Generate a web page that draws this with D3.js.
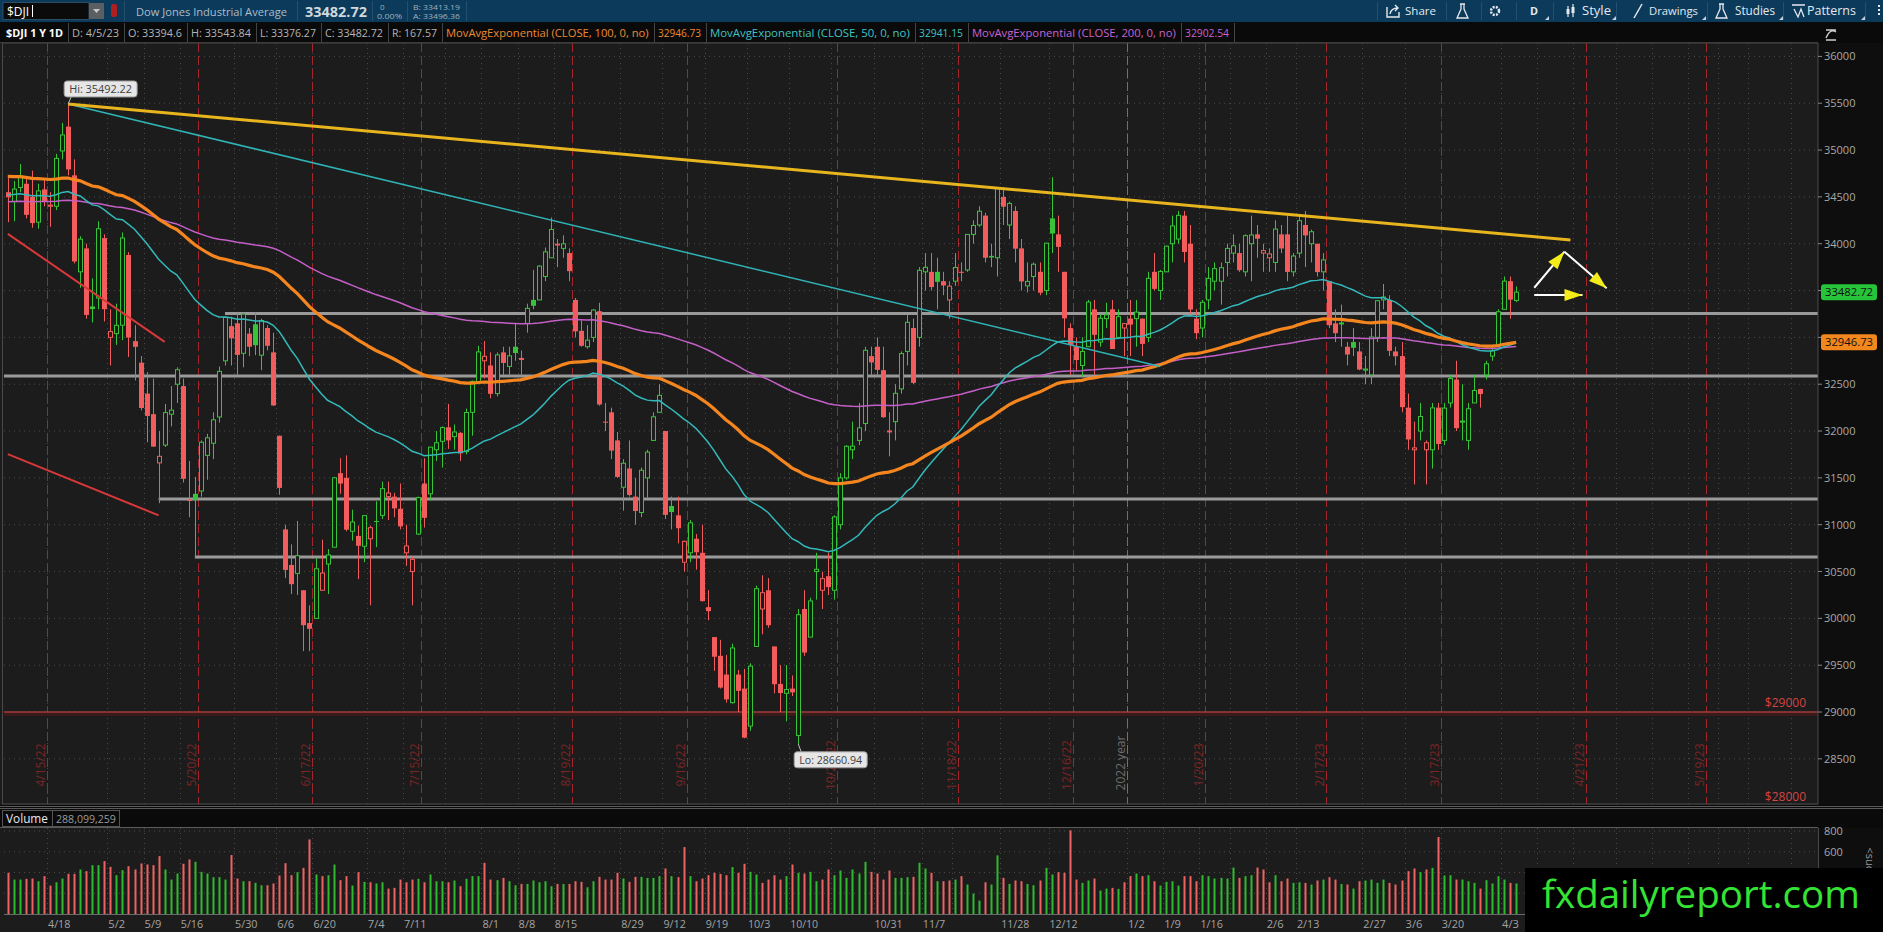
<!DOCTYPE html>
<html>
<head>
<meta charset="utf-8">
<script src="https://cdn.jsdelivr.net/npm/d3@7"></script>
<style>
  body { margin: 0; background: #1c1c1c; overflow: hidden; }
  svg { display: block; }
  text { font-family: "Open Sans", "Liberation Sans", sans-serif; }
  text.narrow { font-family: "Liberation Sans Narrow", "Open Sans", "Liberation Sans", sans-serif; }
</style>
</head>
<body>
<div id="chart"></div>
<script>
// ---- data: daily bars [day, open, high, low, close] ----
var apr22 = [[6,34550,34700,34230,34496],[7,34450,34670,34240,34583],[8,34600,34850,34550,34721],[11,34640,34700,34270,34308],[12,34500,34780,34170,34220],[13,34230,34640,34160,34564],[14,34580,34700,34400,34451],[18,34400,34550,34180,34412],[19,34400,34960,34360,34911],[20,34990,35290,34900,35161],[21,35250,35492,34730,34793],[22,34730,34900,33790,33811],[25,33700,34080,33530,34049],[26,33950,34000,33200,33240],[27,33330,33630,33160,33302],[28,33420,34240,33300,34160],[29,34060,34100,33170,33301]];
var may22 = [[2,33000,33300,32700,33062],[3,33040,33360,32920,33129],[4,33130,34120,32970,34061],[5,33880,33910,32790,32998],[6,32960,33130,32540,32899],[9,32730,32800,32220,32246],[10,32400,32630,31880,32161],[11,32180,32560,31830,31834],[12,31660,32000,31230,31730],[13,31850,32290,31830,32197],[16,32180,32480,32050,32223],[17,32500,32680,32300,32655],[18,32480,32560,31450,31490],[19,31270,31680,31080,31253],[20,31330,31510,30640,31262],[23,31360,31900,31300,31880],[24,31740,31970,31480,31928],[25,31870,32200,31700,32120],[26,32150,32690,32090,32637],[27,32750,33220,32700,33213],[31,33120,33220,32700,32990]];
var jun22 = [[1,33150,33270,32600,32813],[2,32830,33270,32680,33248],[3,33040,33100,32800,32900],[6,33140,33270,32810,32916],[7,32810,33200,32650,33180],[8,33100,33130,32860,32910],[9,32840,33050,32270,32273],[10,31950,31950,31320,31393],[13,30950,31000,30430,30517],[14,30570,30790,30260,30365],[15,30480,31040,30250,30669],[16,30300,30300,29650,29927],[17,29950,30140,29650,29889],[21,30000,30640,30000,30530],[22,30300,30840,30300,30484],[23,30580,30740,30260,30677],[24,30760,31510,30760,31501],[27,31550,31710,31330,31439],[28,31500,31740,30930,30947],[29,30930,31160,30830,31029],[30,30880,30990,30420,30775]];
var jul22 = [[1,30770,31100,30600,31097],[5,30850,30990,30140,30968],[6,31040,31250,30760,31037],[7,31100,31460,31060,31385],[8,31300,31460,31050,31338],[11,31300,31340,31080,31174],[12,31170,31440,30950,30982],[13,30700,31000,30560,30773],[14,30500,30660,30140,30630],[15,30900,31300,30890,31289],[18,31440,31710,30970,31073],[19,31330,31830,31260,31828],[20,31800,32000,31680,31875],[21,31890,32050,31610,32037],[22,32040,32290,31810,31900],[25,31940,32070,31800,31990],[26,31980,31990,31680,31762],[27,31780,32240,31750,32198],[28,32200,32540,31950,32530],[29,32520,32910,32500,32845]];
var aug22 = [[1,32750,32960,32560,32798],[2,32700,32840,32350,32397],[3,32400,32840,32370,32813],[4,32840,32900,32600,32727],[5,32690,32900,32600,32803],[8,32900,33150,32750,32833],[9,32770,32860,32600,32775],[10,33150,33360,33050,33310],[11,33400,33720,33300,33337],[12,33400,33770,33400,33761],[15,33650,33960,33600,33913],[16,33850,34280,33850,34152],[17,34000,34050,33750,33981],[18,33950,34090,33850,33999],[19,33900,33950,33600,33707],[22,33400,33420,33000,33064],[23,33070,33180,32900,32910],[24,32900,33130,32880,32970],[25,33000,33300,32950,33292],[26,33280,33370,32270,32283],[29,32100,32300,32000,32099],[30,32200,32250,31700,31791],[31,31900,31990,31500,31510]];
var sep22 = [[1,31400,31700,31150,31656],[2,31600,31900,31300,31318],[6,31300,31500,31000,31146],[7,31130,31610,31080,31581],[8,31500,31800,31290,31775],[9,31900,32200,31900,32152],[12,32200,32500,32200,32381],[13,32000,32000,31060,31105],[14,31200,31300,30950,31135],[15,31100,31300,30800,30962],[16,30600,30830,30500,30822],[19,30700,31050,30600,31020],[20,30850,30900,30520,30706],[21,30700,31000,30180,30184],[22,30120,30300,29980,30077],[23,29800,29800,29440,29590],[26,29600,29770,29250,29261],[27,29400,29610,29100,29135],[28,29100,29730,29090,29684],[29,29400,29450,29000,29226],[30,29250,29460,28720,28726]];
var oct22 = [[3,28850,29520,28800,29490],[4,29700,30350,29700,30317],[5,30100,30460,29830,30274],[6,30300,30430,29900,29927],[7,29700,29700,29200,29297],[10,29300,29500,29000,29203],[11,29200,29500,28900,29240],[12,29250,29390,29170,29210],[13,28750,30100,28660.94,30039],[14,30100,30300,29600,29635],[17,29800,30220,29800,30186],[18,30500,30700,30200,30524],[19,30300,30500,30100,30424],[20,30450,30700,30250,30334],[21,30300,31100,30200,31083],[24,31000,31550,30950,31500],[25,31500,31850,31480,31837],[26,31800,32100,31700,31839],[27,31900,32300,31850,32034],[28,32080,32900,32000,32862],[31,32800,32900,32600,32733]];
var nov22 = [[1,32900,33000,32580,32653],[2,32650,32900,32140,32148],[3,32000,32200,31730,32001],[4,32100,32500,31900,32403],[7,32450,32850,32400,32827],[8,32850,33250,32700,33161],[9,33100,33200,32500,32514],[10,33000,33750,32900,33716],[11,33700,33900,33500,33748],[14,33700,33900,33500,33537],[15,33700,33850,33300,33593],[16,33600,33700,33450,33554],[17,33400,33600,33200,33547],[18,33600,33900,33550,33746],[21,33700,33800,33600,33700],[22,33720,34100,33700,34099],[23,34100,34250,34000,34195],[25,34200,34400,34180,34347],[28,34300,34330,33800,33850],[29,33870,34000,33750,33853],[30,33850,34600,33650,34590]];
var dec22 = [[1,34500,34600,34200,34395],[2,34200,34450,34050,34430],[5,34350,34400,33800,33947],[6,33950,34050,33500,33597],[7,33550,33800,33480,33598],[8,33650,33800,33500,33781],[9,33700,33800,33450,33477],[12,33500,34010,33450,34006],[13,34270,34710,33900,34109],[14,34100,34300,33700,33966],[15,33700,33700,33000,33203],[16,33100,33150,32600,32920],[19,32900,33000,32650,32758],[20,32700,33000,32580,32850],[21,32900,33400,32900,33377],[22,33300,33400,32600,33027],[23,32950,33250,32900,33204],[27,33200,33370,33100,33241],[28,33300,33400,32880,32876],[29,33000,33300,33000,33221],[30,33100,33150,32800,33147]];
var jan23 = [[3,33200,33400,32800,33136],[4,33200,33400,32900,33270],[5,33200,33200,32800,32930],[6,33000,33700,32950,33631],[9,33700,33900,33500,33518],[10,33500,33720,33400,33704],[11,33700,33980,33700,33974],[12,34000,34300,33800,34190],[13,34050,34350,34000,34303],[17,34300,34350,33800,33911],[18,34000,34200,33250,33297],[19,33200,33300,32980,33045],[20,33100,33400,33000,33375],[23,33400,33750,33300,33630],[24,33600,33800,33500,33734],[25,33600,33800,33350,33744],[26,33800,34000,33650,33950],[27,33900,34100,33800,33978],[30,33900,34000,33700,33717],[31,33700,34100,33650,34086]];
var feb23 = [[1,34000,34300,33600,34093],[2,34100,34200,33850,34054],[3,33900,34000,33700,33926],[6,33850,33950,33700,33891],[7,33800,34250,33700,34156],[8,34100,34200,33900,33949],[9,34100,34300,33600,33699],[10,33700,33900,33650,33869],[13,33900,34300,33850,34246],[14,34200,34350,33750,34089],[15,34000,34150,33800,34128],[16,34000,34000,33650,33697],[17,33700,33900,33500,33827],[21,33600,33600,33100,33130],[22,33150,33300,32950,33045],[23,33150,33350,32900,33154],[24,32900,32950,32700,32817],[27,32950,33100,32800,32889],[28,32850,32950,32650,32657]];
var mar23 = [[1,32650,32800,32500,32662],[2,32600,33100,32500,33004],[3,33000,33400,32950,33391],[6,33400,33570,33300,33431],[7,33400,33450,32800,32856],[8,32850,32900,32700,32798],[9,32800,32950,32200,32255],[10,32250,32400,31800,31910],[13,31800,32100,31430,31820],[14,32000,32300,31900,32155],[15,31800,31900,31430,31875],[16,31800,32300,31600,32247],[17,32250,32300,31800,31862],[20,31900,32300,31850,32245],[21,32300,32600,32250,32561],[22,32550,32750,32000,32031],[23,32100,32500,31900,32106],[24,31900,32300,31800,32238],[27,32300,32600,32300,32433],[28,32450,32450,32250,32395],[29,32600,32750,32550,32718],[30,32800,32900,32750,32860],[31,32900,33300,32900,33274]];
var apr23 = [[3,33300,33650,33300,33601],[4,33600,33650,33200,33403],[5,33394.6,33543.84,33376.27,33482.72]];

var months = [["2022-04",apr22],["2022-05",may22],["2022-06",jun22],["2022-07",jul22],["2022-08",aug22],["2022-09",sep22],["2022-10",oct22],["2022-11",nov22],["2022-12",dec22],["2023-01",jan23],["2023-02",feb23],["2023-03",mar23],["2023-04",apr23]];

// volume, millions of shares, in bar order
var volSpring = [397,332,332,339,342,316,365,274,306,342,387,387,429,413,471,471,510,455,374,423,461,429,487,477,471,558,429,332,390,484,526,503,406,390,355,355,332,568,342,316];
var volSummer = [316,300,277,277,294,371,490,374,403,445,719,381,365,374,477,326,365,274,403,310,306,294,306,245,252,332,306,332,339,306,381,316,316,306,323,268,339,365,365,494,332,326,348,316,277,290,290,323,306,316,268,290,290,290,316,310,258,316,358,332,332,397,342,310,358,358,348,348,365,439,365,355,645];
var volAutumn = [365,316,342,374,397,387,374,452,397,484,406,381,300,332,374,332,365,477,397,390,406,316,332,429,374,419,348,429,390,503,406,390,332,419,348,348,355,358,494,439,397,316];
var volWinter = [316,323,332,365,284,197,129,306,284,565,348,290,323,316,290,277,323,445,381,403,397,806,332,300,323,342,226,245,252,242,306,365,390,365,374,316,274,310,316,274,365,365,316,374,365,342,348,342,448,348,365,374,448,429,306,374,316,342,300,306,300,284,323,332,355,332,290,284,245,316,323,332,300,332,300,284,323,413,439,403,429,445,742,371,374,332,332,316,300,245,326,294,365,332,300,294];

var prevClose = 34641;
var emaStart = { 50: 34522, 100: 34719, 200: 34449 };

var holidays = ["2022-04-15","2022-05-30","2022-06-20","2022-07-04","2022-09-05","2022-11-24","2022-12-26","2023-01-02","2023-01-16","2023-02-20","2023-04-07","2023-05-29","2023-06-19"];

var weekTicks = [["4/18","2022-04-18"],["5/2","2022-05-02"],["5/9","2022-05-10"],["5/16","2022-05-18"],["5/30","2022-06-01"],["6/6","2022-06-10"],["6/20","2022-06-21"],["7/4","2022-07-05"],["7/11","2022-07-13"],["8/1","2022-08-01"],["8/8","2022-08-09"],["8/15","2022-08-17"],["8/29","2022-09-01"],["9/12","2022-09-13"],["9/19","2022-09-22"],["10/3","2022-10-03"],["10/10","2022-10-12"],["10/31","2022-11-01"],["11/7","2022-11-11"],["11/28","2022-12-01"],["12/12","2022-12-13"],["1/2","2023-01-03"],["1/9","2023-01-11"],["1/16","2023-01-20"],["2/6","2023-02-06"],["2/13","2023-02-13"],["2/27","2023-03-01"],["3/6","2023-03-10"],["3/20","2023-03-20"],["4/3","2023-04-03"]];
var extraGrid = ["2022-07-22","2022-10-21","2022-11-18","2023-01-27","2023-04-12","2023-04-20","2023-05-01","2023-05-09","2023-05-17","2023-05-24","2023-06-01","2023-06-12"];
var expirations = [["4/15/22","2022-04-15"],["5/20/22","2022-05-20"],["6/17/22","2022-06-17"],["7/15/22","2022-07-15"],["8/19/22","2022-08-19"],["9/16/22","2022-09-16"],["10/21/22","2022-10-21"],["11/18/22","2022-11-18"],["12/16/22","2022-12-16"],["1/20/23","2023-01-20"],["2/17/23","2023-02-17"],["3/17/23","2023-03-17"],["4/21/23","2023-04-21"],["5/19/23","2023-05-19"]];

var priceTicks = [28500,29000,29500,30000,30500,31000,31500,32000,32500,33000,33500,34000,34500,35000,35500,36000];
var volTicks = [200,400,600,800];

// drawings
var levels = [{ from: null, value: 32588 }, { from: "2022-05-27", value: 33254 }, { from: "2022-05-12", value: 31274 }, { from: "2022-05-20", value: 30655 }];
var yellowTrend = [["2022-04-21", 35492.22], ["2023-04-19", 34040]];
var cyanTrend = [["2022-04-21", 35492.22], ["2023-01-10", 32690]];
var redChannel = [[["2022-04-06", 34105], ["2022-05-13", 32952]], [["2022-04-06", 31754], ["2022-05-12", 31100]]];
var arrows = [[["2023-04-11", 33530], ["2023-04-18", 33915]], [["2023-04-18", 33915], ["2023-04-27", 33524]], [["2023-04-11", 33452], ["2023-04-21", 33452]]];
var alertLevels = [["$29000", 29000], ["$28000", 28000]];

// ---- trading calendar ----
var fmt = d3.timeFormat("%Y-%m-%d"), parse = d3.timeParse("%Y-%m-%d");
var tradingDays = d3.timeDay.range(parse("2022-04-06"), parse("2023-07-01"))
    .filter(function (d) { return d.getDay() !== 0 && d.getDay() !== 6 && holidays.indexOf(fmt(d)) < 0; })
    .map(fmt);
var dayIndex = new Map(tradingDays.map(function (d, i) { return [d, i]; }));
function idxOf(ds) {   // last trading day on or before ds
    var k = 0;
    tradingDays.forEach(function (d, i) { if (d <= ds) k = i; });
    return k;
}

var vols = volSpring.concat(volSummer, volAutumn, volWinter);
var bars = [];
months.forEach(function (m) {
    m[1].forEach(function (r) {
        bars.push({ date: m[0] + "-" + String(r[0]).padStart(2, "0"), o: r[1], h: r[2], l: r[3], c: r[4] });
    });
});
bars.forEach(function (b, i) {
    b.i = dayIndex.get(b.date);
    b.v = vols[i];
    b.prev = i ? bars[i - 1].c : prevClose;
    b.up = b.c >= b.prev;
    b.hollow = b.c > b.o;
});
function ema(n) {
    var a = 2 / (n + 1), e = emaStart[n];
    return bars.map(function (b, i) { if (i) e = e + a * (b.c - e); return { i: b.i, v: e }; });
}

// ---- layout ----
var W = 1883, H = 932;
var PL = 4, PR = 1818, PT = 43, PB = 804, VT = 828, VB = 914;
var BG = "#1c1c1c", UP = "#38c438", DOWN = "#f25c5c";

var x = d3.scaleLinear().domain([-0.63, 300.03]).range([PL, PR]);
var y = d3.scaleLinear().domain([28018, 36143]).range([PB, PT]);
var yv = d3.scaleLinear().domain([0, 829]).range([VB, VT]);
var dx = x(1) - x(0);

var svg = d3.select("#chart").append("svg").attr("width", W).attr("height", H);
svg.append("rect").attr("width", W).attr("height", H).attr("fill", BG);

// put a text into a box of given width: shrink the font if too wide, stretch if narrower
function fitText(sel, target) {
    var w = sel.node().getComputedTextLength();
    if (w > target) sel.attr("font-size", parseFloat(sel.attr("font-size")) * target / w);
    else sel.attr("textLength", target).attr("lengthAdjust", "spacingAndGlyphs");
    return sel;
}

var defs = svg.append("defs");
defs.append("clipPath").attr("id", "pclip").append("rect").attr("x", PL).attr("y", PT).attr("width", PR - PL).attr("height", PB - PT);

// right axis column
svg.append("rect").attr("x", PR).attr("y", 42).attr("width", W - PR).attr("height", H - 42).attr("fill", "#0e0e0e");

// ---- grid ----
var grid = svg.append("g");
priceTicks.forEach(function (v) {
    grid.append("line").attr("x1", PL).attr("x2", PR).attr("y1", y(v)).attr("y2", y(v))
        .attr("stroke", "#4a4a4a").attr("stroke-dasharray", "1,4");
});
volTicks.forEach(function (v) {
    grid.append("line").attr("x1", PL).attr("x2", PR).attr("y1", yv(v)).attr("y2", yv(v))
        .attr("stroke", "#4a4a4a").attr("stroke-dasharray", "1,4");
});
weekTicks.map(function (t) { return t[1]; }).concat(extraGrid).forEach(function (d) {
    var gx = Math.round(x(dayIndex.get(d)) - dx / 2) + 0.5;
    [[PT, PB], [VT, VB]].forEach(function (r) {
        grid.append("line").attr("x1", gx).attr("x2", gx).attr("y1", r[0]).attr("y2", r[1])
            .attr("stroke", "#4a4a4a").attr("stroke-dasharray", "1,4");
    });
});

// expiration + year separators
var sep = svg.append("g");
expirations.forEach(function (e) {
    var ex = Math.round(x(idxOf(e[1])) + dx / 2) + 0.5;
    sep.append("line").attr("x1", ex).attr("x2", ex).attr("y1", PT).attr("y2", PB)
        .attr("stroke", "#a3262a").attr("stroke-dasharray", "9,4").attr("stroke-width", 1);
    sep.append("text").attr("transform", "translate(" + (ex - 3) + ",765) rotate(-90)")
        .attr("text-anchor", "middle").attr("font-size", 12).attr("fill", "#7c2527").text(e[0]);
});
var yearX = Math.round(x(dayIndex.get("2022-12-30")) + dx / 2) + 0.5;
sep.append("line").attr("x1", yearX).attr("x2", yearX).attr("y1", PT).attr("y2", PB)
    .attr("stroke", "#707070").attr("stroke-dasharray", "9,4");
sep.append("text").attr("transform", "translate(" + (yearX - 3) + ",763) rotate(-90)")
    .attr("text-anchor", "middle").attr("font-size", 12).attr("fill", "#6e6e6e").text("2022 year");

var plot = svg.append("g").attr("clip-path", "url(#pclip)");

// alert lines
alertLevels.forEach(function (a) {
    plot.append("rect").attr("x", PL).attr("width", PR - PL).attr("y", y(a[1])).attr("height", 4).attr("fill", "#3a1b1b");
    plot.append("line").attr("x1", PL).attr("x2", PR).attr("y1", y(a[1])).attr("y2", y(a[1]))
        .attr("stroke", "#d94848").attr("stroke-width", 1.2);
    svg.append("text").attr("x", PR - 12).attr("y", y(a[1]) - 5).attr("text-anchor", "end")
        .attr("font-size", 12).attr("fill", "#d24545").text(a[0]);
});

// support / resistance levels
levels.forEach(function (l) {
    var x1 = l.from ? x(dayIndex.get(l.from)) : PL;
    plot.append("line").attr("x1", x1).attr("x2", PR).attr("y1", y(l.value)).attr("y2", y(l.value))
        .attr("stroke", "#9a9a9a").attr("stroke-width", 3);
});

// candles
var cg = plot.append("g");
bars.forEach(function (b) {
    var cx = Math.round(x(b.i)) + 0.5, col = b.up ? UP : DOWN;
    cg.append("line").attr("x1", cx).attr("x2", cx).attr("y1", y(b.h)).attr("y2", y(b.l)).attr("stroke", col);
    var top = y(Math.max(b.o, b.c)), bot = y(Math.min(b.o, b.c));
    var hgt = Math.max(1, bot - top);
    if (b.hollow) {
        cg.append("rect").attr("x", cx - 2).attr("y", top).attr("width", 4).attr("height", hgt)
            .attr("fill", BG).attr("stroke", col).attr("stroke-width", 1);
    } else {
        cg.append("rect").attr("x", cx - 2.5).attr("y", top).attr("width", 5).attr("height", hgt).attr("fill", col);
    }
});

// moving averages
var line = d3.line().x(function (d) { return x(d.i); }).y(function (d) { return y(d.v); });
plot.append("path").datum(ema(200)).attr("d", line).attr("fill", "none").attr("stroke", "#c45fc8").attr("stroke-width", 1.5);
plot.append("path").datum(ema(50)).attr("d", line).attr("fill", "none").attr("stroke", "#33b9bb").attr("stroke-width", 1.5);
plot.append("path").datum(ema(100)).attr("d", line).attr("fill", "none").attr("stroke", "#f5861f").attr("stroke-width", 3.2);

// trendlines
function seg(p, color, w) {
    plot.append("line")
        .attr("x1", x(dayIndex.get(p[0][0]))).attr("y1", y(p[0][1]))
        .attr("x2", x(dayIndex.get(p[1][0]))).attr("y2", y(p[1][1]))
        .attr("stroke", color).attr("stroke-width", w);
}
redChannel.forEach(function (p) { seg(p, "#d8383a", 2); });
seg(cyanTrend, "#2fb3b5", 1.5);
seg(yellowTrend, "#e8b51e", 3);

// arrows
arrows.forEach(function (p) {
    var x1 = x(dayIndex.get(p[0][0])), y1 = y(p[0][1]), x2 = x(dayIndex.get(p[1][0])), y2 = y(p[1][1]);
    var ang = Math.atan2(y2 - y1, x2 - x1), L = 18, hw = 6;
    plot.append("line").attr("x1", x1).attr("y1", y1).attr("x2", x2).attr("y2", y2).attr("stroke", "#ffffff").attr("stroke-width", 2);
    var bx = x2 - L * Math.cos(ang), by = y2 - L * Math.sin(ang);
    var pts = [[x2, y2], [bx + hw * Math.sin(ang), by - hw * Math.cos(ang)], [bx - hw * Math.sin(ang), by + hw * Math.cos(ang)]];
    plot.append("polygon").attr("points", pts.map(function (q) { return q.join(","); }).join(" ")).attr("fill", "#f4ec1a");
});

// hi / lo bubbles
var hiBar = bars.reduce(function (a, b) { return b.h > a.h ? b : a; });
var loBar = bars.reduce(function (a, b) { return b.l < a.l ? b : a; });
function bubble(b, val, label, above) {
    var px = x(b.i), py = y(val);
    var bx = px - 4, by = above ? py - 23 : py + 8, bw = 73, bh = 16;
    svg.append("line").attr("x1", px).attr("y1", py).attr("x2", px + 3).attr("y2", above ? by + bh : by).attr("stroke", "#bdbdbd");
    svg.append("rect").attr("x", bx).attr("y", by).attr("width", bw).attr("height", bh).attr("rx", 3)
        .attr("fill", "#e6e6e6").attr("stroke", "#9a9a9a");
    fitText(svg.append("text").attr("x", bx + 5).attr("y", by + 12)
        .attr("font-size", 11).attr("fill", "#404040").text(label), bw - 10);
}
bubble(hiBar, hiBar.h, "Hi: 35492.22", true);
bubble(loBar, loBar.l, "Lo: 28660.94", false);

// panel borders
svg.append("rect").attr("x", PL - 1.5).attr("y", PT).attr("width", PR - PL + 1.5).attr("height", PB - PT)
    .attr("fill", "none").attr("stroke", "#4a4a4a");

// right price axis, with the last price and the EMA100 tags covering their ticks
var last = bars[bars.length - 1];
var ema100Last = ema(100)[bars.length - 1].v;
var tags = [[last.c, "33482.72", "#27c43a"], [ema100Last, "32946.73", "#f2871e"]];
priceTicks.forEach(function (v) {
    svg.append("line").attr("x1", PR).attr("x2", PR + 4).attr("y1", y(v)).attr("y2", y(v)).attr("stroke", "#8a8a8a");
    var hidden = tags.some(function (t) { return Math.abs(y(t[0]) - y(v)) < 12; });
    if (!hidden) svg.append("text").attr("x", PR + 6).attr("y", y(v) + 4).attr("font-size", 11).attr("fill", "#a8a8a8").text(v);
});
tags.forEach(function (t) {
    svg.append("rect").attr("x", PR + 3).attr("y", y(t[0]) - 8).attr("width", 56).attr("height", 16).attr("rx", 3).attr("fill", t[2]);
    fitText(svg.append("text").attr("x", PR + 7).attr("y", y(t[0]) + 4)
        .attr("font-size", 11).attr("fill", "#101010").text(t[1]), 48);
});

// ---- volume panel ----
svg.append("rect").attr("x", 0).attr("y", 805).attr("width", W).attr("height", 23).attr("fill", "#0a0a0a");
svg.append("line").attr("x1", 0).attr("x2", W).attr("y1", 806.5).attr("y2", 806.5).attr("stroke", "#5a5a5a");
svg.append("line").attr("x1", 0).attr("x2", W).attr("y1", 808.5).attr("y2", 808.5).attr("stroke", "#5a5a5a");
svg.append("line").attr("x1", 0).attr("x2", PR).attr("y1", 827.5).attr("y2", 827.5).attr("stroke", "#5a5a5a");
svg.append("rect").attr("x", 2.5).attr("y", 810.5).attr("width", 50).attr("height", 16).attr("fill", "none").attr("stroke", "#555");
fitText(svg.append("text").attr("x", 6).attr("y", 823).attr("font-size", 12).attr("fill", "#e8e8e8").text("Volume"), 42);
svg.append("rect").attr("x", 52.5).attr("y", 810.5).attr("width", 67).attr("height", 16).attr("fill", "none").attr("stroke", "#555");
fitText(svg.append("text").attr("x", 56).attr("y", 823).attr("font-size", 11).attr("fill", "#9a9a9a").text("288,099,259"), 60);

svg.append("rect").attr("x", PR).attr("y", VT).attr("width", W - PR).attr("height", H - VT).attr("fill", "#0e0e0e");
var vg = svg.append("g");
bars.forEach(function (b) {
    vg.append("rect").attr("x", Math.round(x(b.i)) - 0.5).attr("y", yv(b.v)).attr("width", 2).attr("height", VB - yv(b.v))
        .attr("fill", b.up ? "#2fb92f" : "#ef6262");
});
svg.append("line").attr("x1", PL).attr("x2", PR).attr("y1", VB + 0.5).attr("y2", VB + 0.5).attr("stroke", "#6a6a6a");
svg.append("line").attr("x1", PR + 0.5).attr("x2", PR + 0.5).attr("y1", VT).attr("y2", VB).attr("stroke", "#4a4a4a");
volTicks.filter(function (v) { return v >= 600; }).forEach(function (v) {
    svg.append("text").attr("x", PR + 6).attr("y", yv(v) + 4).attr("font-size", 11).attr("fill", "#a8a8a8").text(v);
});
svg.append("text").attr("transform", "translate(1866,860) rotate(90)").attr("font-size", 11).attr("fill", "#9a9a9a")
    .attr("text-anchor", "middle").text("<suo");

// x axis labels
weekTicks.forEach(function (t) {
    fitText(svg.append("text").attr("class", "narrow").attr("x", x(dayIndex.get(t[1])) - dx / 2 + 1).attr("y", 928)
        .attr("font-size", 12).attr("fill", "#a3a3a3").text(t[0]), t[0].length * 5.6);
});

// watermark
svg.append("rect").attr("x", 1525).attr("y", 868).attr("width", W - 1525).attr("height", H - 868).attr("fill", "#000");
fitText(svg.append("text").attr("x", 1542).attr("y", 908).attr("font-size", 41).attr("fill", "#35e335")
    .attr("class", "narrow").text("fxdailyreport.com"), 318);

// ---- study header row ----
svg.append("rect").attr("x", 0).attr("y", 22).attr("width", W).attr("height", 21).attr("fill", "#0a0a0a");
svg.append("line").attr("x1", 0).attr("x2", PR).attr("y1", 42.5).attr("y2", 42.5).attr("stroke", "#3c3c3c");
var cells = [
    ["$DJI 1 Y 1D", 2, 68, "#ffffff", true], ["D: 4/5/23", 68, 124, "#b5b5b5"], ["O: 33394.6", 124, 187, "#b5b5b5"],
    ["H: 33543.84", 187, 256, "#b5b5b5"], ["L: 33376.27", 256, 321, "#b5b5b5"], ["C: 33482.72", 321, 388, "#b5b5b5"],
    ["R: 167.57", 388, 442, "#b5b5b5"], ["MovAvgExponential (CLOSE, 100, 0, no)", 442, 654, "#ea8a34"], ["32946.73", 654, 706, "#ea8a34"],
    ["MovAvgExponential (CLOSE, 50, 0, no)", 706, 915, "#3fc3c3"], ["32941.15", 915, 968, "#3fc3c3"],
    ["MovAvgExponential (CLOSE, 200, 0, no)", 968, 1181, "#c863d2"], ["32902.54", 1181, 1234, "#c863d2"]
];
cells.forEach(function (c) {
    svg.append("line").attr("x1", c[2] + 0.5).attr("x2", c[2] + 0.5).attr("y1", 23).attr("y2", 42).attr("stroke", "#444");
    fitText(svg.append("text").attr("class", "narrow").attr("x", c[1] + 4).attr("y", 37).attr("font-size", 12).attr("fill", c[3])
        .attr("font-weight", c[4] ? "bold" : null).text(c[0]), c[2] - c[1] - 9);
});
svg.append("path").attr("d", "M1826,30 h10 M1826,40 h10 M1826,38 q4,-10 10,-6").attr("stroke", "#cfcfcf").attr("fill", "none").attr("stroke-width", 1.3);

// ---- top toolbar ----
svg.append("rect").attr("x", 0).attr("y", 0).attr("width", W).attr("height", 22).attr("fill", "#0c3a5b");
svg.append("rect").attr("x", 3).attr("y", 2.5).attr("width", 86).attr("height", 17).attr("fill", "#0b0b0b").attr("stroke", "#2c4d66");
svg.append("text").attr("x", 7).attr("y", 15.5).attr("font-size", 12).attr("fill", "#ffffff").text("$DJI");
svg.append("line").attr("x1", 32.5).attr("x2", 32.5).attr("y1", 5).attr("y2", 17).attr("stroke", "#ffffff");
svg.append("rect").attr("x", 89).attr("y", 3).attr("width", 15).attr("height", 16).attr("fill", "#5a5f63");
svg.append("path").attr("d", "M93,9 h7 l-3.5,4 z").attr("fill", "#c8c8c8");
svg.append("rect").attr("x", 111).attr("y", 4).attr("width", 6).attr("height", 13).attr("rx", 2).attr("fill", "#b01e1e");
[124, 297, 372, 407, 466].forEach(function (sx) {
    svg.append("line").attr("x1", sx + 0.5).attr("x2", sx + 0.5).attr("y1", 1).attr("y2", 21).attr("stroke", "#23506f");
});
fitText(svg.append("text").attr("class", "narrow").attr("x", 136).attr("y", 15.5).attr("font-size", 13).attr("fill", "#aebdc8")
    .text("Dow Jones Industrial Average"), 151);
fitText(svg.append("text").attr("class", "narrow").attr("x", 305).attr("y", 16.5).attr("font-size", 16).attr("font-weight", "bold").attr("fill", "#cfd8de")
    .text("33482.72"), 62);
svg.append("text").attr("x", 380).attr("y", 10).attr("font-size", 8).attr("fill", "#9fb0bc").text("0");
fitText(svg.append("text").attr("x", 377).attr("y", 19).attr("font-size", 8).attr("fill", "#9fb0bc").text("0.00%"), 25);
fitText(svg.append("text").attr("x", 413).attr("y", 10).attr("font-size", 8).attr("fill", "#9fb0bc").text("B: 33413.19"), 47);
fitText(svg.append("text").attr("x", 413).attr("y", 19).attr("font-size", 8).attr("fill", "#9fb0bc").text("A: 33496.36"), 47);

var tools = [["Share", 1405, 31], ["D", 1530, 8], ["Style", 1582, 29], ["Drawings", 1649, 49], ["Studies", 1735, 40], ["Patterns", 1807, 49]];
tools.forEach(function (t) {
    fitText(svg.append("text").attr("class", "narrow").attr("x", t[1]).attr("y", 15).attr("font-size", 13).attr("fill", "#e3e9ee")
        .attr("font-weight", t[0] === "D" ? "bold" : null).text(t[0]), t[2]);
});
[1377, 1446, 1481, 1516, 1553, 1616, 1707, 1783, 1865].forEach(function (sx) {
    svg.append("line").attr("x1", sx + 0.5).attr("x2", sx + 0.5).attr("y1", 2).attr("y2", 20).attr("stroke", "#23506f");
});
[1545, 1612, 1702, 1779, 1861].forEach(function (tx) {
    svg.append("path").attr("d", "M" + tx + ",20 l4,0 l0,-4 z").attr("fill", "#c8d2da");
});
var ic = "#e3e9ee";
svg.append("path").attr("d", "M1387,7 v10 h12 v-5 M1390,14 q1,-6 8,-6 M1395,5 l3,3 l-3,3").attr("stroke", ic).attr("fill", "none").attr("stroke-width", 1.4);
svg.append("path").attr("d", "M1460,4 h5 M1461,4 v5 l-4,9 h11 l-4,-9 v-5").attr("stroke", ic).attr("fill", "none").attr("stroke-width", 1.3);
svg.append("circle").attr("cx", 1495).attr("cy", 11).attr("r", 4).attr("stroke", ic).attr("stroke-width", 2.5).attr("fill", "none").attr("stroke-dasharray", "2,1.2");
svg.append("path").attr("d", "M1568,6 v11 M1573,4 v13").attr("stroke", ic).attr("stroke-width", 1.2);
svg.append("rect").attr("x", 1566.5).attr("y", 9).attr("width", 3).attr("height", 5).attr("fill", ic);
svg.append("rect").attr("x", 1571.5).attr("y", 7).attr("width", 3).attr("height", 6).attr("fill", ic);
svg.append("path").attr("d", "M1634,18 L1642,4").attr("stroke", ic).attr("stroke-width", 1.5);
svg.append("path").attr("d", "M1719,4 h5 M1720,4 v5 l-4,9 h11 l-4,-9 v-5").attr("stroke", ic).attr("fill", "none").attr("stroke-width", 1.3);
svg.append("path").attr("d", "M1792,5 h13 M1794,9 l4,8 l3,-8 l3,8").attr("stroke", ic).attr("fill", "none").attr("stroke-width", 1.3);
svg.append("path").attr("d", "M1879,5 v12").attr("stroke", ic).attr("stroke-width", 2).attr("stroke-dasharray", "2,2");
</script>
</body>
</html>
